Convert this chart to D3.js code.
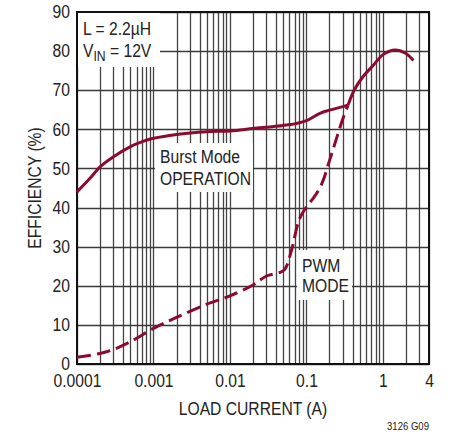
<!DOCTYPE html>
<html><head><meta charset="utf-8">
<script src="https://cdn.jsdelivr.net/npm/d3@7/dist/d3.min.js"></script>
<style>
html,body{margin:0;padding:0;background:#fff;}
text{font-family:"Liberation Sans",Arial,sans-serif;fill:#222;}
</style></head>
<body><svg id="c" width="453" height="438"></svg>
<script>
// ---- data ----
const yTicks = [0,10,20,30,40,50,60,70,80,90];
const xTickValues = [0.0001,0.001,0.01,0.1,1,4];
const xTickLabels = ["0.0001","0.001","0.01","0.1","1","4"];
// Burst Mode operation (solid), low load part
const burstCurrent = [0.0001,0.00015,0.0002,0.0003,0.0005,0.0007,0.001,0.002,0.005,0.01,0.02,0.05,0.07,0.1,0.15,0.2,0.3,0.35];
const burstEff     = [44,47.6,50.4,53,55.6,56.8,57.7,58.7,59.4,59.6,60.2,61,61.4,62.2,64.1,64.9,65.8,66.2];
// PWM mode (dashed)
const pwmCurrent = [0.0001,0.0002,0.0003,0.0005,0.001,0.002,0.005,0.01,0.02,0.03,0.045,0.052,0.064,0.08,0.1,0.123,0.158,0.2,0.25,0.3,0.35];
const pwmEff     = [1.7,2.7,3.7,5.7,9.1,11.9,15.3,17.4,20.2,22.5,23.4,24.2,29.2,36.8,40.2,42.4,46,52,58,62.8,66.2];
// Common high-load part (solid)
const highCurrent = [0.35,0.42,0.55,0.75,1.0,1.45,1.95,2.5];
const highEff     = [66.2,70,73.5,76.4,79.1,80.3,79.5,77.6];

const svg = d3.select("#c");
const L=77,R=429,T=12,B=364;
const SX=0.87, FS="18px";
const x = d3.scaleLog().domain([0.0001,4]).range([L,R]);
const y = d3.scaleLinear().domain([0,90]).range([B,T]);
const curveColor = "#8c0a30";

// grid
const vgrid=[];
for(let e=-4;e<=0;e++){for(let k=1;k<=9;k++){const v=k*Math.pow(10,e); if(v<=4) vgrid.push(v);}}
const g = svg.append("g");
g.selectAll("line.v").data(vgrid).join("line")
  .attr("x1",d=>Math.round(x(d))+0.5).attr("x2",d=>Math.round(x(d))+0.5)
  .attr("y1",T).attr("y2",B).attr("stroke","#444").attr("stroke-width",1.3);
g.selectAll("line.h").data(yTicks).join("line")
  .attr("y1",d=>Math.round(y(d))+0.5).attr("y2",d=>Math.round(y(d))+0.5)
  .attr("x1",L).attr("x2",R).attr("stroke","#3a3a3a").attr("stroke-width",1.3);

// annotation boxes
svg.append("rect").attr("x",78).attr("y",13).attr("width",82).attr("height",54).attr("fill","#fff");
svg.append("rect").attr("x",155).attr("y",143).attr("width",98).attr("height",49).attr("fill","#fff");
svg.append("rect").attr("x",297).attr("y",250).attr("width",55).attr("height",50).attr("fill","#fff");

// frame
svg.append("rect").attr("x",L).attr("y",T).attr("width",R-L).attr("height",B-T)
  .attr("fill","none").attr("stroke","#111").attr("stroke-width",2);

// axes (labels only)
const yAxis = d3.axisLeft(y).tickValues(yTicks).tickSize(0).tickPadding(7);
const ya = svg.append("g").attr("transform",`translate(${L},0)`).call(yAxis);
ya.select(".domain").remove();
ya.selectAll("text").style("font-size",FS).attr("fill","#222").attr("x",-7/SX).attr("transform",`scale(${SX},1)`);
const xAxis = d3.axisBottom(x).tickValues(xTickValues).tickFormat((d,i)=>xTickLabels[i]).tickSize(0).tickPadding(10);
const xa = svg.append("g").attr("transform",`translate(0,${B})`).call(xAxis);
xa.select(".domain").remove();
xa.selectAll("text").style("font-size",FS).attr("fill","#222").attr("transform",`scale(${SX},1)`);

// curves
const line = d3.line().x(d=>x(d[0])).y(d=>y(d[1])).curve(d3.curveCatmullRom.alpha(0.5));
svg.append("path").datum(burstCurrent.map((c,i)=>[c,burstEff[i]])).attr("d",line)
  .attr("fill","none").attr("stroke",curveColor).attr("stroke-width",3);
svg.append("path").datum(highCurrent.map((c,i)=>[c,highEff[i]])).attr("d",line)
  .attr("fill","none").attr("stroke",curveColor).attr("stroke-width",3);
svg.append("path").datum(pwmCurrent.map((c,i)=>[c,pwmEff[i]])).attr("d",line)
  .attr("fill","none").attr("stroke",curveColor).attr("stroke-width",3).attr("stroke-dasharray","14,6");

// text helper
function txt(px,py,str,anchor,size,rot){
  const t = svg.append("text")
    .attr("transform",`translate(${px},${py})${rot?` rotate(${rot})`:""} scale(${SX},1)`)
    .attr("text-anchor",anchor||"start").style("font-size",size||FS);
  if(str!==null) t.text(str);
  return t;
}
txt(83,35,"L = 2.2µH");
const vt = txt(83,57,null);
vt.append("tspan").text("V");
vt.append("tspan").attr("dy",4).style("font-size","14px").text("IN");
vt.append("tspan").attr("dy",-4).text(" = 12V");
txt(160,163,"Burst Mode");
txt(160,185,"OPERATION");
txt(302,272,"PWM");
txt(302,292,"MODE");

// axis titles
txt((L+R)/2,415,"LOAD CURRENT (A)","middle");
txt(41,(T+B)/2,"EFFICIENCY (%)","middle",FS,-90);
txt(429,430,"3126 G09","end","11px");
</script></body></html>
